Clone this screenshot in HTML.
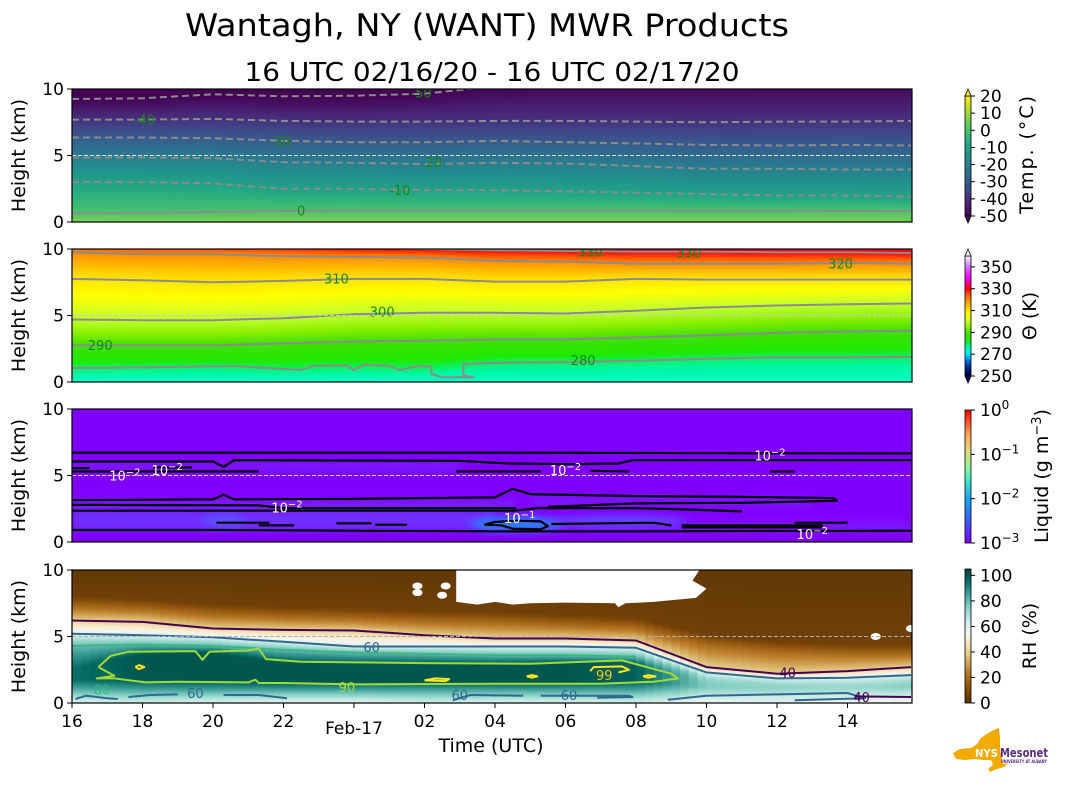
<!DOCTYPE html>
<html>
<head>
<meta charset="utf-8">
<style>
html,body{margin:0;padding:0;background:#fff;}
svg{display:block;font-family:"DejaVu Sans","Liberation Sans",sans-serif;}
</style>
</head>
<body>
<svg id="fig" width="1066" height="806" viewBox="0 0 1066 806" xmlns="http://www.w3.org/2000/svg">
  <defs id="defs"></defs>
  <text x="487" y="36" font-size="31" text-anchor="middle" textLength="604" lengthAdjust="spacingAndGlyphs">Wantagh, NY (WANT) MWR Products</text>
  <text x="492" y="81" font-size="26" text-anchor="middle" textLength="495" lengthAdjust="spacingAndGlyphs">16 UTC 02/16/20 - 16 UTC 02/17/20</text>
  <g id="panels"></g>
  <g id="xaxis"></g>
  <text x="491" y="752" font-size="19" text-anchor="middle">Time (UTC)</text>
  <g id="cbars"></g>
  <g>
    <polygon fill="#f0aa00" points="953,753 960,749 971,748 977,744 980,739 985,735 990,732 996,729 999,728 1000,738 1000,750 1002,759 1003,764 1008,763 1004,767 997,769 990,772 988,769 993,765 991,760 983,760 975,759 965,760 956,759"/>
    <text x="975" y="757" font-size="11" font-weight="bold" fill="#fff" textLength="23" lengthAdjust="spacingAndGlyphs">NYS</text>
    <text x="1000" y="757" font-size="12" font-weight="bold" fill="#5b2c83" textLength="48" lengthAdjust="spacingAndGlyphs">Mesonet</text>
    <text x="1001" y="763" font-size="4" font-weight="bold" fill="#5b2c83" textLength="46" lengthAdjust="spacingAndGlyphs">UNIVERSITY AT ALBANY</text>
  </g>
</svg>
<script>
// ---------------- DATA ----------------
const T = [0,2,4,6,8,10,12,14,16,18,20,22,23.8];
const xTickHours = [0,2,4,6,10,12,14,16,18,20,22];
const xTickLabels = ["16","18","20","22","02","04","06","08","10","12","14"];
const yTicks = [0,5,10];

// Temperature contours (km)
const tH0  = [0.65,0.7,0.75,0.83,0.85,0.85,0.85,0.85,0.85,0.85,0.85,0.83,0.83];
const tH10 = [3.0,3.0,2.9,2.5,2.5,2.4,2.4,2.3,2.2,2.1,2.0,2.0,1.9];
const tH20 = [4.85,4.85,4.8,4.5,4.45,4.35,4.45,4.4,4.2,4.0,4.0,3.95,3.95];
const tH30 = [6.35,6.35,6.3,6.1,6.0,6.0,6.1,6.0,5.9,5.8,5.75,5.8,5.75];
const tH40 = [7.7,7.7,7.75,7.6,7.55,7.55,7.6,7.6,7.55,7.5,7.55,7.55,7.6];
const tH50 = [9.25,9.3,9.6,9.45,9.5,9.65,10.2,10.5,10.5,10.5,10.6,10.6,10.6];
const tLevels = [0,-10,-20,-30,-40,-50];
const tLabelText = ["0","-10","-20","-30","-40","-50"];
const tLabelPos = [[6.5,0.85],[9.3,2.4],[10.2,4.5],[5.9,6.1],[2.05,7.7],[9.9,9.75]];

// Potential temperature contours (km)
const th280 = [1.05,1.1,1.15,1.0,1.1,1.0,1.45,1.5,1.6,1.75,1.85,1.85,1.9];
const th280Line = [[0,1.05],[2,1.1],[4.6,1.2],[6.5,0.9],[6.8,1.2],[7.8,1.25],[8.0,0.9],[8.3,1.3],[9.0,1.2],[9.3,0.9],[9.8,1.2],[10.2,1.15],[10.2,0.6],[10.5,0.35],[11.4,0.35],[11.1,0.5],[11.1,1.35],[12.1,1.45],[14,1.5],[16,1.6],[18,1.75],[20,1.85],[22,1.85],[23.8,1.9]];
const th290 = [2.75,2.75,2.75,2.9,3.05,3.1,3.2,3.2,3.35,3.5,3.7,3.8,3.85];
const th300 = [4.7,4.65,4.65,4.8,5.1,5.2,5.2,5.15,5.35,5.6,5.75,5.85,5.9];
const th310 = [7.75,7.65,7.5,7.6,7.75,7.75,7.55,7.55,7.75,7.7,7.7,7.7,7.7];
const th320 = [9.75,9.6,9.6,9.45,9.4,9.35,9.1,9.05,8.9,8.9,8.9,8.95,8.9];
const th330 = [10.6,10.5,10.4,10.3,10.1,10.0,9.9,9.85,9.8,9.8,9.75,9.75,9.7];
const thLabelText = ["280","290","300","310","320","330","330"];
const thLabelPos = [[14.5,1.65],[0.8,2.8],[8.8,5.3],[7.5,7.8],[21.8,8.9],[14.7,9.8],[17.5,9.75]];

// Liquid water 1e-2 contour segments [hour, km]
const lqLines = [
  [[0,6.72],[12,6.72],[18,6.68],[23.8,6.66]],
  [[0,6.05],[4.0,6.05],[4.3,5.65],[4.6,6.15],[11,6.1],[12.4,5.9],[14,5.85],[15.5,5.9],[15.9,6.15],[23.8,6.15]],
  [[0,5.3],[5.3,5.3]],
  [[0,5.55],[0.5,5.55]],
  [[2.3,5.6],[3.4,5.6]],
  [[10.9,5.3],[13.3,5.3]],
  [[14.7,5.35],[15.8,5.3]],
  [[19.8,5.3],[20.5,5.3]],
  [[0,3.15],[4.0,3.2],[4.3,3.55],[4.6,3.2],[8,3.25],[12,3.35],[12.5,4.0],[13.0,3.6],[16,3.45],[19,3.4],[21.6,3.3],[21.7,3.1],[19,2.95],[16,2.9],[13.5,2.65]],
  [[0,2.8],[5.3,2.75],[6,2.55],[12.6,2.55]],
  [[0,2.35],[12.6,2.35],[13.2,2.55],[16,2.55],[18,2.4],[19,2.3]],
  [[0,0.9],[4,0.9],[8,0.85],[12,0.8],[16,0.8],[23.8,0.85]],
  [[11.7,1.3],[12,1.5],[12.6,1.6],[13.3,1.55],[13.5,1.2],[13.3,0.95],[12.5,1.0],[12.2,1.25],[11.7,1.3]],
  [[4.1,1.45],[5.6,1.45]],[[5.3,1.25],[6.3,1.25]],[[7.5,1.4],[8.5,1.4]],[[8.6,1.3],[9.5,1.3]],
  [[17.3,1.25],[21.3,1.25]],[[17.3,1.1],[21.3,1.1]],[[20.5,1.45],[22,1.45]],[[13.6,1.35],[16.5,1.45],[17,1.25]]
];
const lqLabelText = ["10","10","10","10","10","10","10"];
const lqLabelExp = ["−2","−2","−2","−2","−2","−2","−1"];
const lqLabelPos = [[1.5,5.0],[2.7,5.4],[6.1,2.6],[14.0,5.4],[19.8,6.5],[21.0,0.6],[12.7,1.8]];

// Relative humidity profiles
const rhSurf  = [60,62,60,58,58,62,60,60,62,55,58,55,52];
const rhLowH  = [0.9,1.0,1.0,1.0,1.0,1.0,1.0,1.0,1.0,0.8,0.7,0.7,0.8];
const rhLow   = [80,85,85,85,85,85,85,85,85,70,68,66,68];
const coreLo  = [1.7,1.8,1.7,1.6,1.6,1.6,1.6,1.6,1.6,1.2,1.1,1.1,1.2];
const coreHi  = [2.6,3.7,3.8,3.0,2.9,2.9,2.9,3.0,3.0,1.3,1.2,1.2,1.3];
const corePeak= [95,100,100,100,100,100,100,100,98,76,74,72,75];
const rhH80   = [4.3,4.4,4.3,4.0,3.8,3.7,3.6,3.6,3.5,1.8,1.5,1.5,1.6];
const rhH60   = [5.2,5.1,4.95,4.6,4.25,4.25,4.25,4.25,4.15,2.3,1.85,1.9,2.1];
const rhH40   = [6.2,6.1,5.6,5.5,5.45,5.1,4.85,4.85,4.7,2.7,2.2,2.4,2.7];
const rhH20   = [7.2,7.0,6.6,6.4,6.3,6.1,6.0,5.8,5.6,4.3,3.8,3.6,3.6];
const rh90Loop = [[0.75,2.7],[1.1,3.55],[1.6,3.85],[3.5,3.9],[3.7,3.25],[3.9,3.85],[5.0,3.95],[5.3,4.1],[5.5,3.3],[6.5,3.1],[10,3.0],[13,2.95],[15.6,3.2],[17,2.2],[17.2,1.85],[16.5,1.6],[15,1.45],[12,1.45],[8,1.4],[6,1.5],[5.3,1.5],[5.2,1.75],[5.0,1.55],[3,1.6],[2.1,1.55],[1.2,1.85],[0.7,1.85],[1.2,2.05],[0.75,2.7]];
const rh99Loops = [
  [[1.8,2.7],[1.9,2.85],[2.05,2.7],[1.9,2.55],[1.8,2.7]],
  [[10.0,1.7],[10.3,1.85],[10.7,1.8],[10.6,1.65],[10.0,1.7]],
  [[14.7,2.4],[14.8,2.7],[15.6,2.75],[15.8,2.5],[15.5,2.3]],
  [[12.9,2.0],[13.05,2.1],[13.2,2.0],[13.05,1.9],[12.9,2.0]],
  [[16.2,2.0],[16.35,2.1],[16.55,2.0],[16.35,1.9],[16.2,2.0]]
];
const rh60Low = [
  [[0.1,0.3],[0.4,0.55],[1.0,0.35],[1.3,0.3]],
  [[1.6,0.45],[2.2,0.6],[3.0,0.65]],[[4.3,0.6],[5.3,0.6],[6.1,0.35]],
  [[10.8,0.2],[11.3,0.6],[12.8,0.55]],[[13.3,0.55],[15.8,0.55],[15.9,0.45],[14.9,0.4]],
  [[16.9,0.25],[18,0.55],[20,0.65],[22,0.75],[22.5,0.35],[20.5,0.2]]
];
const rh40Low = [[22.2,0.5],[23.8,0.45]];
const rhMissing = [[10.9,10],[10.9,7.6],[11.5,7.4],[12,7.6],[12.5,7.4],[13,7.5],[14,7.55],[15.4,7.5],[15.5,7.2],[15.7,7.5],[16.5,7.6],[17.7,7.9],[18,8.6],[17.6,9.2],[17.8,10]];
const rhMissingDots = [[9.8,8.8],[9.8,8.3],[10.6,8.8],[10.5,8.1],[22.8,5.0],[23.8,5.6]];
const rhLabelText = ["80","90","99","60","60","60","60","40","40"];
const rhLabelPos = [[0.85,1.0],[7.8,1.2],[15.1,2.1],[8.5,4.2],[3.5,0.75],[11.0,0.6],[14.1,0.6],[20.3,2.3],[22.4,0.45]];
const rhLabelColor = ["#35b779","#a0da39","#e8d020","#31688e","#31688e","#31688e","#31688e","#440154","#440154"];

// Colorbar ticks
const cbTempTicks = [-50,-40,-30,-20,-10,0,10,20];
const cbThetaTicks = [250,270,290,310,330,350];
const cbLiqTicks = [-3,-2,-1,0];
const cbRhTicks = [0,20,40,60,80,100];

// ---------------- HELPERS ----------------
const NS = "http://www.w3.org/2000/svg";
const svg = document.getElementById('fig');
const defs = document.getElementById('defs');
const PT = [89,249,409,570], PH = 133, XL = 72, XR = 912, HMAX = 23.83;
function X(h){ return XL + h*35.25; }
function Y(p,km){ return PT[p] + PH*(1-km/10); }
function mk(tag, attrs, parent){ const e=document.createElementNS(NS,tag); for(const k in attrs) e.setAttribute(k,attrs[k]); if(parent) parent.appendChild(e); return e; }
function interp(xs, ys, x){
  if(x<=xs[0]) return ys[0];
  for(let i=1;i<xs.length;i++){ if(x<=xs[i]){ const t=(x-xs[i-1])/(xs[i]-xs[i-1]); return ys[i-1]+t*(ys[i]-ys[i-1]); } }
  return ys[ys.length-1];
}
function hex2rgb(h){ return [parseInt(h.substr(1,2),16),parseInt(h.substr(3,2),16),parseInt(h.substr(5,2),16)]; }
function cmap(stops, v){
  if(v<=stops[0][0]) return stops[0][1];
  for(let i=1;i<stops.length;i++){
    if(v<=stops[i][0]){
      const t=(v-stops[i-1][0])/(stops[i][0]-stops[i-1][0]);
      const a=hex2rgb(stops[i-1][1]), b=hex2rgb(stops[i][1]);
      return 'rgb('+a.map((c,j)=>Math.round(c+t*(b[j]-c))).join(',')+')';
    }
  }
  return stops[stops.length-1][1];
}
function anchorVal(anchors, km){
  return interp(anchors.map(a=>a[0]), anchors.map(a=>a[1]), km);
}
const viridis = [[-50,'#440154'],[-43,'#482475'],[-36,'#414487'],[-29,'#355f8d'],[-22,'#2a788e'],[-15,'#21918c'],[-8,'#22a884'],[-1,'#44bf70'],[6,'#7ad151'],[13,'#bddf26'],[20,'#fde725']];
const thetaMap = [[250,'#000050'],[255,'#001060'],[262,'#0050c0'],[268,'#00c8ff'],[273,'#00ffd0'],[278,'#00f5a0'],[283,'#20e800'],[290,'#40e000'],[295,'#90f000'],[300,'#c0ff30'],[306,'#ffff00'],[312,'#ffd800'],[318,'#ffa000'],[324,'#ff6000'],[330,'#ff0000'],[340,'#ff00ff'],[350,'#d070ff'],[360,'#ffffff']];
const rainbow = [[-3,'#8000ff'],[-2.5,'#3c5bfa'],[-2,'#1aa8f0'],[-1.6,'#40e8d0'],[-1.3,'#90f8a0'],[-1,'#d0e080'],[-0.6,'#ffb060'],[-0.3,'#ff6030'],[0,'#ff0000']];
const brbg = [[0,'#543005'],[12,'#8c510a'],[25,'#bf812d'],[37,'#dfc27d'],[47,'#f6e8c3'],[55,'#f5f5f5'],[65,'#c7eae5'],[76,'#80cdc1'],[87,'#35978f'],[97,'#01665e'],[105,'#003c30']];
function pathFrom(p, pts){ return pts.map((q,i)=>(i?'L':'M')+X(Math.min(q[0],HMAX)).toFixed(1)+' '+Y(p,q[1]).toFixed(1)).join(' '); }
function nodePts(arr){ return T.map((t,i)=>[t,arr[i]]); }

let gradId = 0;
function fillColumns(p, g, anchorFn, map){
  const step = 0.25;
  for(let h=0; h<HMAX; h+=step){
    const hm = Math.min(h+step/2, HMAX);
    const anchors = anchorFn(hm);
    const id = 'g'+(gradId++);
    const lg = mk('linearGradient',{id:id,x1:0,y1:1,x2:0,y2:0},defs);
    for(let k=0;k<=50;k++){
      const km = k*0.2;
      mk('stop',{offset:(k/50).toFixed(3),'stop-color':cmap(map, anchorVal(anchors,km))},lg);
    }
    const r = mk('rect',{x:X(h).toFixed(2),y:PT[p],width:(Math.min(X(h+step),XR)-X(h)+0.6).toFixed(2),height:PH,fill:'url(#'+id+')'},g);
    
    
  }
}
function makePanel(p, name){
  const g = mk('g',{},document.getElementById('panels'));
  
  
  const cp = mk('clipPath',{id:'clip'+p},defs);
  mk('rect',{x:XL,y:PT[p],width:XR-XL,height:PH},cp);
  const inner = mk('g',{'clip-path':'url(#clip'+p+')'},g);
  return [g, inner];
}
function finishPanel(p, g, dashColor){
  const dl = mk('line',{x1:XL,x2:XR,y1:Y(p,5),y2:Y(p,5),stroke:dashColor,'stroke-width':1,'stroke-dasharray':'4,2'},g);
  
  
  const fr = mk('rect',{x:XL,y:PT[p],width:XR-XL,height:PH,fill:'none',stroke:'#000','stroke-width':1.2},g);
  
  
  yTicks.forEach(v=>{
    const tk = mk('line',{x1:XL-5,x2:XL,y1:Y(p,v),y2:Y(p,v),stroke:'#000','stroke-width':1},g);
    
    
    const tl = mk('text',{x:XL-8,y:Y(p,v)+6,'font-size':17,'text-anchor':'end'},g);
    tl.textContent = v;
    
    
  });
  const yl = mk('text',{x:0,y:0,'font-size':19,'text-anchor':'middle',transform:'translate(25,'+(PT[p]+PH/2)+') rotate(-90)'},g);
  yl.textContent = 'Height (km)';
  
  
}
function line(p, parent, pts, color, w, dash, name){
  const e = mk('path',{d:pathFrom(p,pts),fill:'none',stroke:color,'stroke-width':w,'stroke-linejoin':'round'},parent);
  if(dash) e.setAttribute('stroke-dasharray',dash);
  
  
  return e;
}
function label(p, parent, pos, txt, color, size, name){
  const e = mk('text',{x:X(pos[0]).toFixed(1),y:(Y(p,pos[1])+5).toFixed(1),'font-size':size,'text-anchor':'middle',fill:color},parent);
  e.textContent = txt;
  
  
  return e;
}

// ---------------- PANEL 1: Temperature ----------------
(function(){
  const [g, inner] = makePanel(0,'temperature-panel');
  fillColumns(0, inner, h=>{
    const a=[[0,6]], hs=[tH0,tH10,tH20,tH30,tH40,tH50].map(arr=>interp(T,arr,h));
    tLevels.forEach((lv,i)=>a.push([hs[i],lv]));
    a.push([hs[5]+1.5,-58]);
    return a;
  }, viridis);
  [tH0,tH10,tH20,tH30,tH40,tH50].forEach((arr,i)=>{
    line(0, inner, nodePts(arr), '#8c8c8c', 2, tLevels[i]<0?'7,4':null, 'temp-contour-'+tLabelText[i]);
  });
  tLabelPos.forEach((pos,i)=>label(0, inner, pos, tLabelText[i], '#138a13', 13, 'temp-contour-label'));
  finishPanel(0, g, '#e0e0e0');
})();

// ---------------- PANEL 2: Theta ----------------
(function(){
  const [g, inner] = makePanel(1,'theta-panel');
  fillColumns(1, inner, h=>{
    const hs=[th280,th290,th300,th310,th320,th330].map(arr=>interp(T,arr,h));
    const a=[[0,274]];
    [280,290,300,310,320,330].forEach((lv,i)=>a.push([hs[i],lv]));
    a.push([hs[5]+1.5,340]);
    return a;
  }, thetaMap);
  line(1, inner, th280Line, '#8c8c8c', 2, null, 'theta-contour-280');
  [th290,th300,th310,th320,th330].forEach((arr,i)=>{
    line(1, inner, nodePts(arr), '#8c8c8c', 2, null, 'theta-contour-'+(290+10*i));
  });
  thLabelPos.forEach((pos,i)=>label(1, inner, pos, thLabelText[i], '#138a13', 13, 'theta-contour-label'));
  finishPanel(1, g, '#c8c8c8');
})();

// ---------------- PANEL 3: Liquid ----------------
(function(){
  const [g, inner] = makePanel(2,'liquid-panel');
  const bg = mk('rect',{x:XL,y:PT[2],width:XR-XL,height:PH,fill:'#8000ff'},inner);
  
  
  const f = mk('filter',{id:'blur3',x:'-50%',y:'-50%',width:'200%',height:'200%'},defs);
  mk('feGaussianBlur',{stdDeviation:4},f);
  const glows = [[[0,0.9],[12,2.35],'#6a3cff',0.8],[[0,2.4],[12.6,3.2],'#7430ff',0.6],[[0,5.3],[11,6.05],'#7530ff',0.5],[[13,0.8],[23.8,1.5],'#7238ff',0.5],[[13,2.7],[21,3.4],'#7533ff',0.5]];
  glows.forEach(gl=>{
    const r = mk('rect',{x:X(gl[0][0]),y:Y(2,gl[1][1]),width:X(gl[1][0])-X(gl[0][0]),height:Y(2,gl[0][1])-Y(2,gl[1][1]),fill:gl[2],opacity:gl[3],filter:'url(#blur3)'},inner);
    
    
  });
  const hot = [[12.6,1.35,1.3,0.6,'#2e7cff'],[4.3,1.6,0.6,0.5,'#5a50ff'],[15.5,1.6,2.0,0.4,'#6048ff']];
  hot.forEach(b=>{
    const e = mk('ellipse',{cx:X(b[0]),cy:Y(2,b[1]),rx:b[2]*35.25,ry:b[3]*13.3,fill:b[4],filter:'url(#blur3)'},inner);
    
    
  });
  lqLines.forEach(pts=>line(2, inner, pts, '#000', 2.2, null, 'liquid-contour-1e-2'));
  lqLabelPos.forEach((pos,i)=>{
    const e = mk('text',{x:X(pos[0]).toFixed(1),y:(Y(2,pos[1])+5).toFixed(1),'font-size':13,'text-anchor':'middle',fill:'#fff'},inner);
    e.textContent = lqLabelText[i];
    const s = mk('tspan',{dy:-5,'font-size':10},e);
    s.textContent = lqLabelExp[i];
    
    
  });
  finishPanel(2, g, '#d8d8a8');
})();

// ---------------- PANEL 4: RH ----------------
(function(){
  const [g, inner] = makePanel(3,'rh-panel');
  fillColumns(3, inner, h=>{
    const pk = interp(T,corePeak,h);
    return [[0,interp(T,rhSurf,h)],[interp(T,rhLowH,h),interp(T,rhLow,h)],[interp(T,coreLo,h),pk],[interp(T,coreHi,h),pk],
      [interp(T,rhH80,h),Math.min(80,pk-3)],[interp(T,rhH60,h),60],[interp(T,rhH40,h),40],[interp(T,rhH20,h),20],[interp(T,rhH20,h)+0.8,6],[10.01,3]];
  }, brbg);
  const miss = mk('path',{d:pathFrom(3,rhMissing)+' Z',fill:'#fff'},inner);
  
  
  rhMissingDots.forEach(d=>{
    const e = mk('ellipse',{cx:X(d[0]),cy:Y(3,d[1]),rx:5,ry:3.5,fill:'#fff'},inner);
    
    
  });
  line(3, inner, nodePts(rhH40), '#440154', 2, null, 'rh-contour-40');
  line(3, inner, nodePts(rhH60), '#31688e', 2, null, 'rh-contour-60');
  line(3, inner, nodePts(rhH80).filter(q=>q[0]<=16), '#35b779', 1.5, null, 'rh-contour-80');
  line(3, inner, rh90Loop, '#a0da39', 2, null, 'rh-contour-90');
  rh99Loops.forEach(pts=>line(3, inner, pts, '#fde725', 2, null, 'rh-contour-99'));
  rh60Low.forEach(pts=>line(3, inner, pts, '#31688e', 2, null, 'rh-contour-60-low'));
  line(3, inner, rh40Low, '#440154', 2, null, 'rh-contour-40-low');
  rhLabelPos.forEach((pos,i)=>label(3, inner, pos, rhLabelText[i], rhLabelColor[i], 13, 'rh-contour-label'));
  finishPanel(3, g, '#b0b0b0');
})();

// ---------------- X AXIS ----------------
(function(){
  const g = document.getElementById('xaxis');
  const yb = PT[3]+PH;
  xTickHours.concat([8]).forEach(h=>{
    const t = mk('line',{x1:X(h),x2:X(h),y1:yb,y2:yb+5,stroke:'#000','stroke-width':1},g);
    
    
  });
  xTickHours.forEach((h,i)=>{
    const e = mk('text',{x:X(h),y:yb+24,'font-size':17,'text-anchor':'middle'},g);
    e.textContent = xTickLabels[i];
    
    
  });
  const d = mk('text',{x:X(8),y:yb+31,'font-size':17,'text-anchor':'middle'},g);
  d.textContent = 'Feb-17';
  
  
})();

// ---------------- COLORBARS ----------------
(function(){
  const g = document.getElementById('cbars');
  const CX=965, CW=6;
  function bar(name, top, bot, vmin, vmax, map, ticks, tickFmt, triTop, triBot, lbl, lblY, lblX){
    const gg = mk('g',{},g);
    
    
    const id='cb'+(gradId++);
    const lg = mk('linearGradient',{id:id,x1:0,y1:1,x2:0,y2:0},defs);
    for(let k=0;k<=40;k++){ mk('stop',{offset:k/40,'stop-color':cmap(map, vmin+(vmax-vmin)*k/40)},lg); }
    const yv = v => bot - (v-vmin)/(vmax-vmin)*(bot-top);
    const r = mk('rect',{x:CX,y:top,width:CW,height:bot-top,fill:'url(#'+id+')',stroke:'#000','stroke-width':0.8},gg);
    
    
    if(triTop){ const t=mk('polygon',{points:CX+','+top+' '+(CX+CW)+','+top+' '+(CX+CW/2)+','+(top-7),fill:triTop,stroke:'#000','stroke-width':0.8},gg);   }
    if(triBot){ const t=mk('polygon',{points:CX+','+bot+' '+(CX+CW)+','+bot+' '+(CX+CW/2)+','+(bot+7),fill:triBot,stroke:'#000','stroke-width':0.8},gg);   }
    ticks.forEach(v=>{
      const tk = mk('line',{x1:CX+CW,x2:CX+CW+4,y1:yv(v),y2:yv(v),stroke:'#000','stroke-width':1},gg);
      
      
      const tl = mk('text',{x:CX+CW+9,y:yv(v)+6,'font-size':17},gg);
      tickFmt(tl, v);
      
      
    });
    const lt = mk('text',{x:0,y:0,'font-size':19,'text-anchor':'middle',transform:'translate('+lblX+','+lblY+') rotate(-90)'},gg);
    lbl(lt);
    
    
  }
  const plain = (e,v)=>{ e.textContent = String(v); };
  bar('temperature-colorbar', 96, 216, -50, 20, viridis, cbTempTicks, plain, '#fde725', '#440154',
      e=>{ e.textContent='Temp. (°C)'; e.setAttribute('textLength','118'); }, 155, 1033);
  bar('theta-colorbar', 256, 376, 250, 360, thetaMap, cbThetaTicks, plain, '#ffffff', '#000050',
      e=>{ e.textContent='Θ (K)'; }, 316, 1036);
  bar('liquid-colorbar', 410, 543, -3, 0, rainbow, cbLiqTicks, (e,v)=>{ e.textContent='10'; const s=mk('tspan',{dy:-7,'font-size':12},e); s.textContent=(v<0?'−':'')+Math.abs(v); }, null, null,
      e=>{ e.textContent='Liquid (g m'; const s=mk('tspan',{dy:-7,'font-size':13},e); s.textContent='−3'; const s2=mk('tspan',{dy:7},e); s2.textContent=')'; }, 476, 1048);
  bar('rh-colorbar', 569, 703, 0, 105, brbg, cbRhTicks, plain, null, null,
      e=>{ e.textContent='RH (%)'; }, 636, 1036);
})();
</script>
</body>
</html>
